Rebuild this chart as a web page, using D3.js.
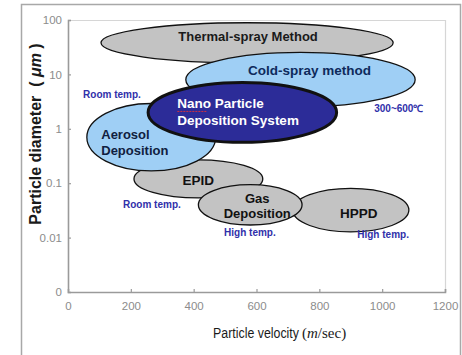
<!DOCTYPE html>
<html><head><meta charset="utf-8">
<script src="https://cdn.jsdelivr.net/npm/d3@7"></script>
<style>
html,body{margin:0;padding:0;background:#fff;}
svg{display:block;}
</style></head>
<body>
<svg id="c" width="462" height="355"></svg>
<script>
// ---- data ----
const methods = ["Thermal-spray Method","Cold-spray method","EPID","Aerosol Deposition","Nano Particle Deposition System","HPPD","Gas Deposition"];
const centerVelocity = [570, 740, 415, 265, 555, 900, 580];   // m/sec
const centerDiameter = [38, 8, 0.12, 0.7, 2, 0.032, 0.04];     // um
const velocitySpread = [465, 365, 205, 205, 300, 185, 165];    // m/sec (half width)
const diameterSpread = [0.37, 0.5, 0.35, 0.62, 0.55, 0.4, 0.37]; // decades (half height)
const methodKind = ["gray","blue","gray","blue","nano","gray","gray"];

const noteText = ["Room temp.","300~600\u2103","Room temp.","High temp.","High temp."];
const noteVelocity = [140, 1053, 267, 579, 1003];
const noteDiameter = [4.2, 2.4, 0.04, 0.0126, 0.0112];

const xTicks = [0,200,400,600,800,1000,1200];
const yTicks = [0.001,0.01,0.1,1,10,100];
const yTickLabels = ["0","0.01","0.1","1","10","100"];

// ---- drawing ----
const svg = d3.select("#c");
const x = d3.scaleLinear().domain([0,1200]).range([68,445]);
const y = d3.scaleLog().domain([0.001,100]).range([292,20]);

// outer frame
svg.append("path").attr("d","M21.5,356 V4.5 H460.5 V356")
  .attr("fill","none").attr("stroke","#a8a8a8").attr("stroke-width",1.5);
// plot box (top/right light)
svg.append("path").attr("d",`M${x(0)},20.5 H445.5 V292`)
  .attr("fill","none").attr("stroke","#d6d6d6").attr("stroke-width",1.2);

const tickFont = "'Liberation Sans Narrow','Liberation Sans',Arial,sans-serif";

// axes
const xAxis = d3.axisBottom(x).tickValues(xTicks).tickSize(-3).tickPadding(10)
  .tickFormat(d=>String(d));
const gx = svg.append("g").attr("transform","translate(0,292)").call(xAxis);
const yAxis = d3.axisLeft(y).tickValues(yTicks).tickSize(-3).tickPadding(6)
  .tickFormat((d,i)=>yTickLabels[i]);
const gy = svg.append("g").attr("transform",`translate(${x(0)},0)`).call(yAxis);
[gx,gy].forEach(g=>{
  g.select(".domain").attr("stroke","#9a9a9a").attr("stroke-width",1.6);
  g.selectAll(".tick line").attr("stroke","#9a9a9a").attr("stroke-width",1.2);
  g.selectAll(".tick text").attr("fill","#8c8c8c").attr("font-family",tickFont).attr("font-size",11.5);
});
gx.select(".tick line").remove();
gy.select(".tick line").remove();

// ellipses
const fills = {gray:"#c3c3c3", blue:"#9fcff5", nano:"#2c2c98"};
const ell = methods.map((m,i)=>{
  const cx = x(centerVelocity[i]);
  const cy = y(centerDiameter[i]);
  const rx = x(centerVelocity[i]+velocitySpread[i]) - cx;
  const ry = cy - y(centerDiameter[i]*Math.pow(10,diameterSpread[i]));
  return {m,cx,cy,rx,ry,kind:methodKind[i]};
});
svg.append("g").selectAll("ellipse").data(ell).join("ellipse")
  .attr("cx",d=>d.cx).attr("cy",d=>d.cy).attr("rx",d=>d.rx).attr("ry",d=>d.ry)
  .attr("fill",d=>fills[d.kind]).attr("stroke","#111")
  .attr("stroke-width",d=>d.kind==="nano"?3:1.3);

// labels
const lblFont = "'Liberation Sans',Arial,sans-serif";
function lbl(i, lines, dx, dy, anchor, size, color){
  const e = ell[i];
  const t = svg.append("text").attr("font-family",lblFont).attr("font-weight","bold")
    .attr("font-size",size).attr("fill",color).attr("text-anchor",anchor);
  lines.forEach((s,k)=>{
    t.append("tspan").attr("x",e.cx+dx).attr("y",e.cy+dy+k*size*1.2).text(s);
  });
  return t;
}
lbl(0,["Thermal-spray Method"],1,-1.5,"middle",13,"#1a1a1a");
lbl(1,["Cold-spray method"],9,-5,"middle",13.5,"#0e2a5c");
lbl(3,["Aerosol","Deposition"],-50,2,"start",13,"#102040");
lbl(4,["Nano Particle","Deposition System"],-65,-4,"start",13.5,"#ffffff");
lbl(2,["EPID"],0,6,"middle",13.5,"#111");
lbl(5,["HPPD"],8,8,"middle",13.5,"#111");
lbl(6,["Gas","Deposition"],7,-2,"middle",13,"#111");

// spell-check squiggle under "Nano"
{
  const e = ell[4];
  const x0 = e.cx-65, y0 = e.cy-4+3;
  svg.append("line").attr("x1",x0).attr("x2",x0+29).attr("y1",y0).attr("y2",y0)
    .attr("stroke","#d03040").attr("stroke-width",1).attr("stroke-dasharray","2,1");
}

// annotations
svg.append("g").selectAll("text").data(noteText).join("text")
  .attr("x",(d,i)=>x(noteVelocity[i])).attr("y",(d,i)=>y(noteDiameter[i]))
  .attr("dy","0.35em").attr("text-anchor","middle")
  .attr("font-family",lblFont).attr("font-weight","bold").attr("font-size",10)
  .attr("fill","#3030aa").text(d=>d);

// axis titles
const yt = svg.append("text").attr("transform","translate(41,134) rotate(-90)")
  .attr("text-anchor","middle").attr("font-family",lblFont).attr("font-weight","bold")
  .attr("font-size",16).attr("fill","#1a1a1a");
yt.append("tspan").text("Particle diameter \u00a0( ");
yt.append("tspan").attr("font-style","italic").text("\u03bcm");
yt.append("tspan").text(" )");

const serif = "'Liberation Serif','DejaVu Serif',serif";
const xt1 = svg.append("text").attr("x",0).attr("y",0).attr("fill","#1a1a1a").attr("font-size",15)
  .attr("font-family",tickFont).text("Particle velocity");
const natW = xt1.node().getComputedTextLength() || 87;
xt1.attr("transform",`translate(213,338) scale(${(86/natW).toFixed(4)},1)`);
const xt2 = svg.append("text").attr("x",302).attr("y",338).attr("fill","#1a1a1a")
  .attr("font-size",15).attr("font-family",serif);
xt2.append("tspan").text("(");
xt2.append("tspan").attr("font-style","italic").text("m");
xt2.append("tspan").text("/sec)");
</script>
</body></html>
